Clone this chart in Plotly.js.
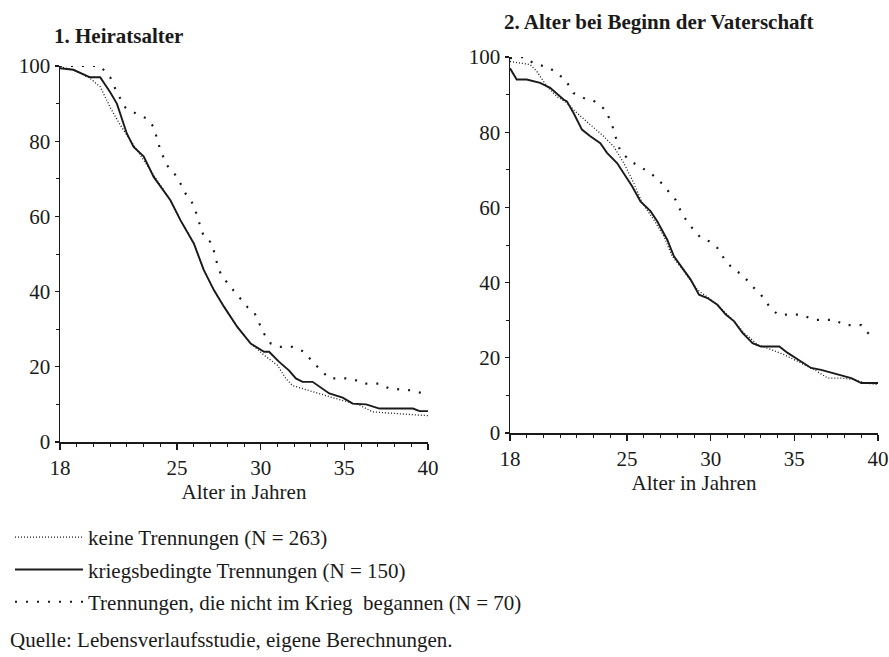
<!DOCTYPE html>
<html>
<head>
<meta charset="utf-8">
<script src="https://cdn.plot.ly/plotly-3.0.1.min.js"></script>
<style>html,body{margin:0;padding:0;background:#fff;}#chart{width:889px;height:657px;}</style>
</head>
<body>
<div id="chart"></div>
<script>
// ---- Data: Panel 1 (Heiratsalter) ----
const h_keine_x = [18, 18.8, 19.8, 20.4, 21, 21.6, 22.2, 23, 23.6, 24.6, 25.2, 26, 26.6, 27.2, 27.8, 28.6, 29.4, 30.2, 31, 31.5, 31.9, 33.1, 34.3, 35.9, 36.7, 38.3, 40];
const h_keine_y = [99.8, 99, 96.7, 94.5, 89, 84.3, 80.3, 75, 71, 64.3, 59, 52.8, 45.7, 40.4, 36, 30.6, 26.2, 23.1, 20.4, 16.9, 15, 13.3, 11.8, 9.8, 8, 7.5, 7];
const h_krieg_x = [18, 18.8, 19.8, 20.4, 21, 21.4, 22, 22.4, 23, 23.6, 24.6, 25.2, 26, 26.6, 27.2, 27.8, 28.6, 29.4, 30.2, 30.5, 31.1, 31.7, 32.1, 32.5, 33.1, 34.1, 34.9, 35.5, 36.3, 37.1, 39.1, 39.5, 40];
const h_krieg_y = [99.4, 99, 97, 97, 93, 90, 82, 78.5, 76, 70.5, 64.3, 59, 52.8, 45.7, 40.4, 36, 30.6, 26.2, 24, 24, 21.3, 19, 16.9, 16, 16, 12.9, 11.8, 10.2, 10, 8.9, 8.9, 8.2, 8.2];
const h_andere_x = [18, 20.4, 21, 21.4, 21.9, 22.6, 23.2, 23.6, 23.8, 24, 24.4, 25, 25.5, 26, 26.3, 26.6, 27.1, 27.3, 27.6, 28.1, 28.7, 29.2, 29.6, 30, 30.2, 30.6, 31.1, 31.9, 32.6, 33.1, 33.6, 34.1, 35.1, 35.7, 36.1, 37.1, 37.7, 39.1, 39.7];
const h_andere_y = [100, 100, 97, 93, 89, 87.2, 86, 83.8, 80.7, 77.6, 73.6, 70.5, 66.1, 63, 58.6, 54.6, 52.8, 48.8, 44.8, 41.7, 38.6, 35.9, 34.6, 30.6, 28.8, 26.2, 25.3, 25.3, 24, 21.3, 19, 16.9, 16.9, 16.4, 15.5, 15.5, 14.2, 13.7, 12.9];

// ---- Data: Panel 2 (Alter bei Beginn der Vaterschaft) ----
const v_keine_x = [18, 19.2, 19.6, 20.2, 20.8, 21.4, 22, 22.8, 23.6, 24.2, 24.8, 25.4, 25.9, 26.6, 27.2, 27.7, 28.4, 29.2, 30, 30.6, 31.4, 32, 32.8, 33.6, 34.4, 35.4, 36.2, 37, 37.8, 38.6, 39.2, 40];
const v_keine_y = [98.8, 98, 96.2, 92.2, 89.5, 87.8, 85.1, 82, 78.9, 76.2, 71.8, 66.5, 61.2, 56.7, 52.3, 47, 43, 38.1, 35.5, 33.2, 29.7, 26.6, 23.5, 22.2, 20.8, 18.6, 16.8, 14.6, 14.6, 14.2, 13.3, 12.9];
const v_krieg_x = [18, 18.4, 19, 19.8, 20.4, 21.2, 21.4, 21.8, 22.3, 22.8, 23.4, 23.8, 24.4, 24.8, 25.3, 25.8, 26.4, 26.8, 27.4, 27.8, 28.4, 28.8, 29.3, 29.8, 30.4, 30.9, 31.4, 31.9, 32.5, 33, 34.1, 34.6, 35.4, 36, 36.6, 37.6, 38.4, 39, 40];
const v_krieg_y = [97, 94, 94, 93.1, 91.8, 88.7, 88.2, 85.1, 80.7, 78.9, 77.1, 74.5, 71.8, 69.1, 65.6, 61.6, 59, 56.3, 51.4, 47, 43.4, 40.8, 36.8, 35.9, 34.1, 31.5, 29.7, 26.6, 23.9, 23, 23, 21.3, 19, 17.3, 16.8, 15.5, 14.6, 13.3, 13.3];
const v_andere_x = [18, 18.8, 19.4, 20.4, 21.3, 21.8, 22.4, 22.9, 23.7, 24.1, 24.3, 24.6, 25.2, 25.9, 26.8, 27.4, 27.9, 28.3, 28.8, 29.4, 29.9, 30.4, 30.9, 31.4, 31.9, 32.4, 33, 33.5, 34, 35.4, 36.2, 37.4, 38, 39, 39.5];
const v_andere_y = [99.7, 100, 98.4, 97, 94, 90.4, 89.1, 88.7, 86, 82, 78.9, 74.9, 72.3, 70.5, 67.8, 64.7, 62, 58.1, 55, 51.9, 51, 49.2, 45.7, 43.4, 42.1, 39.4, 36.8, 33.7, 31.5, 31.5, 30.1, 30.1, 28.7, 28.7, 26.1];

// ---- Labels ----
const seriesNames = ["keine Trennungen (N = 263)", "kriegsbedingte Trennungen (N = 150)", "Trennungen, die nicht im Krieg  begannen (N = 70)"];
const panelTitles = ["1. Heiratsalter", "2. Alter bei Beginn der Vaterschaft"];
const xTickVals = [18, 25, 30, 35, 40];
const yTickVals = [0, 20, 40, 60, 80, 100];
const xTitle = "Alter in Jahren";
const sourceNote = "Quelle: Lebensverlaufsstudie, eigene Berechnungen.";

const FONT = "Liberation Serif, Times New Roman, serif";
const INK = "#1a1a1a";
const styles = [
  {color: INK, width: 1.3, dash: "1px,2px"},
  {color: INK, width: 1.9, dash: "solid"},
  {color: INK, width: 2.2, dash: "2px,9px"}
];

function mk(x, y, i, ax, show) {
  return {
    x: x, y: y, type: "scatter", mode: "lines",
    name: seriesNames[i], legendgroup: "g" + i, showlegend: show,
    xaxis: ax[0], yaxis: ax[1],
    line: Object.assign({shape: "linear"}, styles[i]),
    hoverinfo: "x+y"
  };
}

const data = [
  mk(h_keine_x, h_keine_y, 0, ["x", "y"], true),
  mk(h_krieg_x, h_krieg_y, 1, ["x", "y"], true),
  mk(h_andere_x, h_andere_y, 2, ["x", "y"], true),
  mk(v_keine_x, v_keine_y, 0, ["x2", "y2"], false),
  mk(v_krieg_x, v_krieg_y, 1, ["x2", "y2"], false),
  mk(v_andere_x, v_andere_y, 2, ["x2", "y2"], false)
];

function xax(domain, anchor, standoff) {
  return {
    domain: domain, anchor: anchor, range: [18, 40], fixedrange: true,
    showgrid: false, zeroline: false, showline: true, linecolor: INK, linewidth: 1.5,
    ticks: "outside", ticklen: 6, tickwidth: 1.3, tickcolor: INK,
    tickvals: xTickVals, ticktext: xTickVals.map(String),
    minor: {dtick: 1, tick0: 18, ticks: "outside", ticklen: 3, tickwidth: 1, tickcolor: INK, showgrid: false},
    tickfont: {family: FONT, size: 21, color: INK},
    title: {text: xTitle, font: {family: FONT, size: 21, color: INK}, standoff: standoff},
    automargin: false
  };
}
function yax(domain, anchor) {
  return {
    domain: domain, anchor: anchor, range: [0, 100], fixedrange: true,
    showgrid: false, zeroline: false, showline: true, linecolor: INK, linewidth: 1.5,
    ticks: "outside", ticklen: 4, tickwidth: 1.3, tickcolor: INK,
    tickvals: yTickVals, ticktext: yTickVals.map(String),
    minor: {dtick: 10, tick0: 0, ticks: "outside", ticklen: 3, tickwidth: 1, tickcolor: INK, showgrid: false},
    tickfont: {family: FONT, size: 21, color: INK},
    automargin: false
  };
}

const W = 889, H = 657;
const layout = {
  width: W, height: H,
  margin: {l: 0, r: 0, t: 0, b: 0},
  paper_bgcolor: "#fff", plot_bgcolor: "#fff",
  font: {family: FONT, color: INK},
  xaxis: xax([60 / W, 428 / W], "y", 4),
  yaxis: yax([1 - 442 / H, 1 - 66 / H], "x"),
  xaxis2: xax([510 / W, 878 / W], "y2", 3),
  yaxis2: yax([1 - 433 / H, 1 - 57 / H], "x2"),
  showlegend: true,
  legend: {
    x: 10 / W, y: 1 - 517 / H, xanchor: "left", yanchor: "top",
    orientation: "v", traceorder: "grouped", tracegroupgap: 2,
    font: {family: FONT, size: 21, color: INK},
    bgcolor: "rgba(0,0,0,0)", itemwidth: 68
  },
  annotations: [
    {text: "<b>" + panelTitles[0] + "</b>", xref: "paper", yref: "paper", x: 52 / W, y: 1 - 36 / H, xanchor: "left", yanchor: "middle", showarrow: false, font: {family: FONT, size: 21, color: INK}},
    {text: "<b>" + panelTitles[1] + "</b>", xref: "paper", yref: "paper", x: 502 / W, y: 1 - 22 / H, xanchor: "left", yanchor: "middle", showarrow: false, font: {family: FONT, size: 21, color: INK}},
    {text: sourceNote, xref: "paper", yref: "paper", x: 8 / W, y: 1 - 640 / H, xanchor: "left", yanchor: "middle", showarrow: false, font: {family: FONT, size: 21, color: INK}}
  ]
};

Plotly.newPlot("chart", data, layout, {displayModeBar: false, staticPlot: true});
</script>
</body>
</html>
